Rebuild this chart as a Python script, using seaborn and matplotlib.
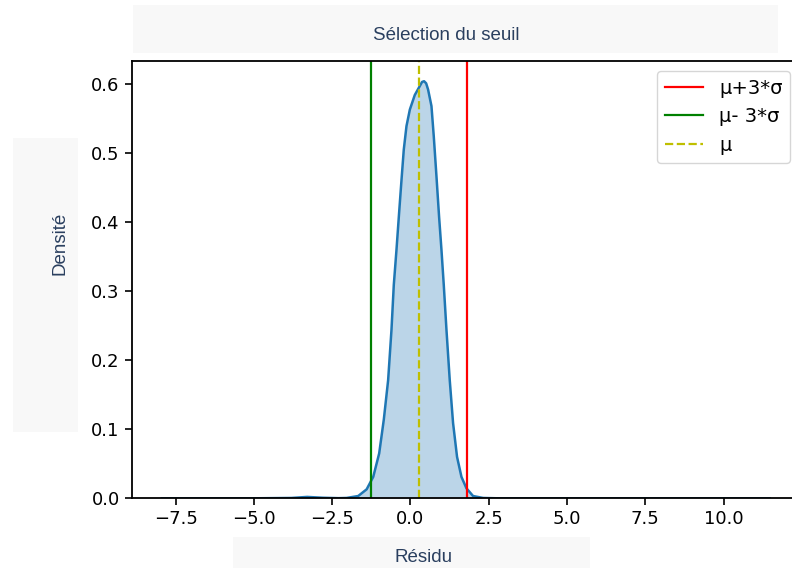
import matplotlib
matplotlib.use('Agg')
import matplotlib.pyplot as plt
import matplotlib.patches as patches
import pandas as pd
import seaborn as sns

# density curve (x = residual, y = density)
residu = [-7.94, -5.0, -3.8, -3.3, -2.8, -2.3, -2.04, -1.67, -1.40, -1.19, -1.0,
          -0.852, -0.714, -0.607, -0.533, -0.447, -0.364, -0.287, -0.214,
          -0.128, -0.02, 0.137, 0.297, 0.37, 0.434, 0.50, 0.562, 0.670,
          0.744, 0.830, 0.913, 0.989, 1.063, 1.149, 1.254, 1.360, 1.487,
          1.628, 1.787, 1.998, 2.32, 2.8, 5.0, 11.47]
densite = [0.0, 0.0, 0.0005, 0.002, 0.0008, 0.0002, 0.0005, 0.0033, 0.013, 0.031,
           0.065, 0.114, 0.171, 0.244, 0.309, 0.360, 0.413, 0.461, 0.505,
           0.539, 0.563, 0.584, 0.597, 0.603, 0.604, 0.601, 0.592, 0.568,
           0.524, 0.466, 0.408, 0.360, 0.309, 0.244, 0.171, 0.109, 0.060,
           0.031, 0.0145, 0.0033, 0.0005, 0.0, 0.0, 0.0]

mu = 0.26
sigma = 0.51

df = pd.DataFrame({'Résidu': residu, 'Densité': densite})

W, H = 792, 568
fig = plt.figure(figsize=(W / 100, H / 100), dpi=100)

# light label boxes behind the titles
def box(x0, y0, x1, y1):
    fig.patches.append(patches.Rectangle((x0 / W, 1 - y1 / H), (x1 - x0) / W, (y1 - y0) / H,
                                         transform=fig.transFigure, facecolor='#f8f8f8',
                                         edgecolor='none', zorder=0))

box(133, 5, 778, 53)
box(13, 138, 78, 432)
box(233, 537, 590, 568)

txt = dict(color='#2a3f5f', family='Liberation Sans', fontsize=13.5)
fig.text(446 / W, 1 - 35 / H, 'Sélection du seuil', ha='center', va='center', **txt)
fig.text(60 / W, 1 - 243 / H, 'Densité', ha='center', va='center', rotation=90, **txt)
fig.text(423 / W, 1 - 557 / H, 'Résidu', ha='center', va='center', **txt)

ax = fig.add_axes([131.5 / W, 1 - 498.3 / H, (800 - 131.5) / W, (498.3 - 61) / H])

sns.lineplot(data=df, x='Résidu', y='Densité', ax=ax, color='#1f77b4', linewidth=1.8)
ax.fill_between(df['Résidu'], df['Densité'], color='#1f77b4', alpha=0.3, linewidth=0)

ax.axvline(mu + 3 * sigma, color='red', linewidth=1.6, label='μ+3*σ')
ax.axvline(mu - 3 * sigma, color='green', linewidth=1.6, label='μ- 3*σ')
ax.axvline(mu, color='y', linestyle='--', linewidth=1.6, label='μ')

ax.set_xlim(-8.91, 12.44)
ax.set_ylim(0, 0.6333)
ax.set_xlabel('')
ax.set_ylabel('')
ax.tick_params(labelsize=13, length=5, width=1.2)
for s in ax.spines.values():
    s.set_linewidth(1.3)
ax.legend(loc='upper right', fontsize=14)

fig.savefig('out.png', dpi=100)
